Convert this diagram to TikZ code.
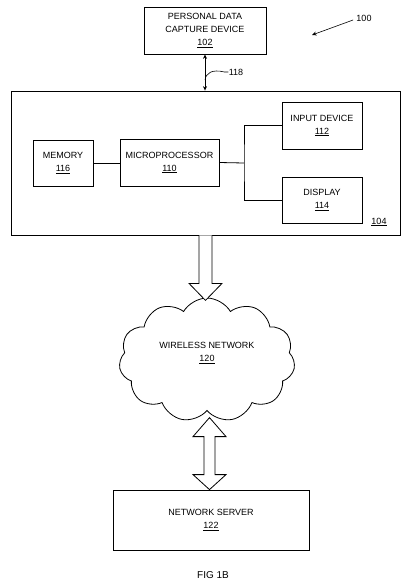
\documentclass[tikz,border=0pt]{standalone}
\usepackage{fontspec}
\setmainfont{Liberation Sans}
\usetikzlibrary{shapes.symbols,calc,arrows.meta}
\begin{document}
\begin{tikzpicture}[x=1pt,y=-1pt, line width=0.8pt,
  box/.style={draw, inner sep=0pt, align=center, font=\fontsize{9}{13}\selectfont},
  lbl/.style={font=\fontsize{9}{13}\selectfont, inner sep=0pt, align=center},
  >={Stealth[length=4.5pt,width=4pt]}]
\useasboundingbox (0,0) rectangle (408,584);
% top device
\node[box, minimum width=122pt, minimum height=47pt] (pdc) at (205,30.5) {PERSONAL DATA\\CAPTURE DEVICE\\\underline{102}};
% main device box
\node[draw, minimum width=389pt, minimum height=144pt, inner sep=0pt] (dev) at (205.5,163) {};
\node[lbl] (l104) at (379,222) {\underline{104}};
\node[box, minimum width=60pt, minimum height=46pt] (mem) at (63,163) {MEMORY\\\underline{116}};
\node[box, minimum width=99pt, minimum height=47pt] (mp) at (169.5,162.5) {MICROPROCESSOR\\\underline{110}};
\node[box, minimum width=80pt, minimum height=47pt] (inp) at (322,125.5) {INPUT DEVICE\\\underline{112}};
\node[box, minimum width=80pt, minimum height=46pt] (disp) at (322,200) {DISPLAY\\\underline{114}};
\coordinate (jn) at (244,163);
\draw (mem.east) -- (mp.west |- mem.east);
\draw (mp.east) -- (jn);
\draw (inp.west) -| (jn) |- (disp.west);
% 118 link
\draw[<->] (pdc.south) -- (pdc.south |- dev.north);
\node[lbl] (l118) at (236,72) {118};
\draw[line width=0.6pt] (l118.west) -- ++(-4,0) .. controls (212,69) and (206,73) .. (205,80);
% 100 label
\node[lbl] (l100) at (364,18) {100};
\coordinate (p100) at (312,35);
\draw[line width=0.6pt,->] ($(l100.west)+(-3,2)$) -- (p100);
% cloud
\node[draw, cloud, cloud puffs=11, cloud puff arc=120, aspect=1.42, minimum width=176pt, minimum height=124pt, inner sep=0pt] (net) at (207,360) {};
\node[lbl] (netl) at (207,353) {WIRELESS NETWORK\\\underline{120}};
% server
\node[box, minimum width=196pt, minimum height=60pt] (srv) at (211,520) {NETWORK SERVER\\\underline{122}};
% hollow arrow down
\draw[fill=white] ($(dev.south)+(-6.5,0)$) -- ++(0,48) -- ++(-10,0) -- ($(dev.south)+(0,65)$) -- ++(16.5,-17) -- ++(-10,0) -- ++(0,-48);
% hollow double arrow
\draw[fill=white] ($(srv.north)+(-1.5,0)$) coordinate (b) -- ++(-16.5,-15) -- ++(11,0) -- ++(0,-38) -- ++(-11,0) -- ($(b)+(0,-72)$) -- ++(16.5,19) -- ++(-11,0) -- ++(0,38) -- ++(11,0) -- cycle;
% caption
\node[font=\fontsize{10}{12}\selectfont, inner sep=0pt] (cap) at (213,575) {FIG 1B};
\end{tikzpicture}
\end{document}
